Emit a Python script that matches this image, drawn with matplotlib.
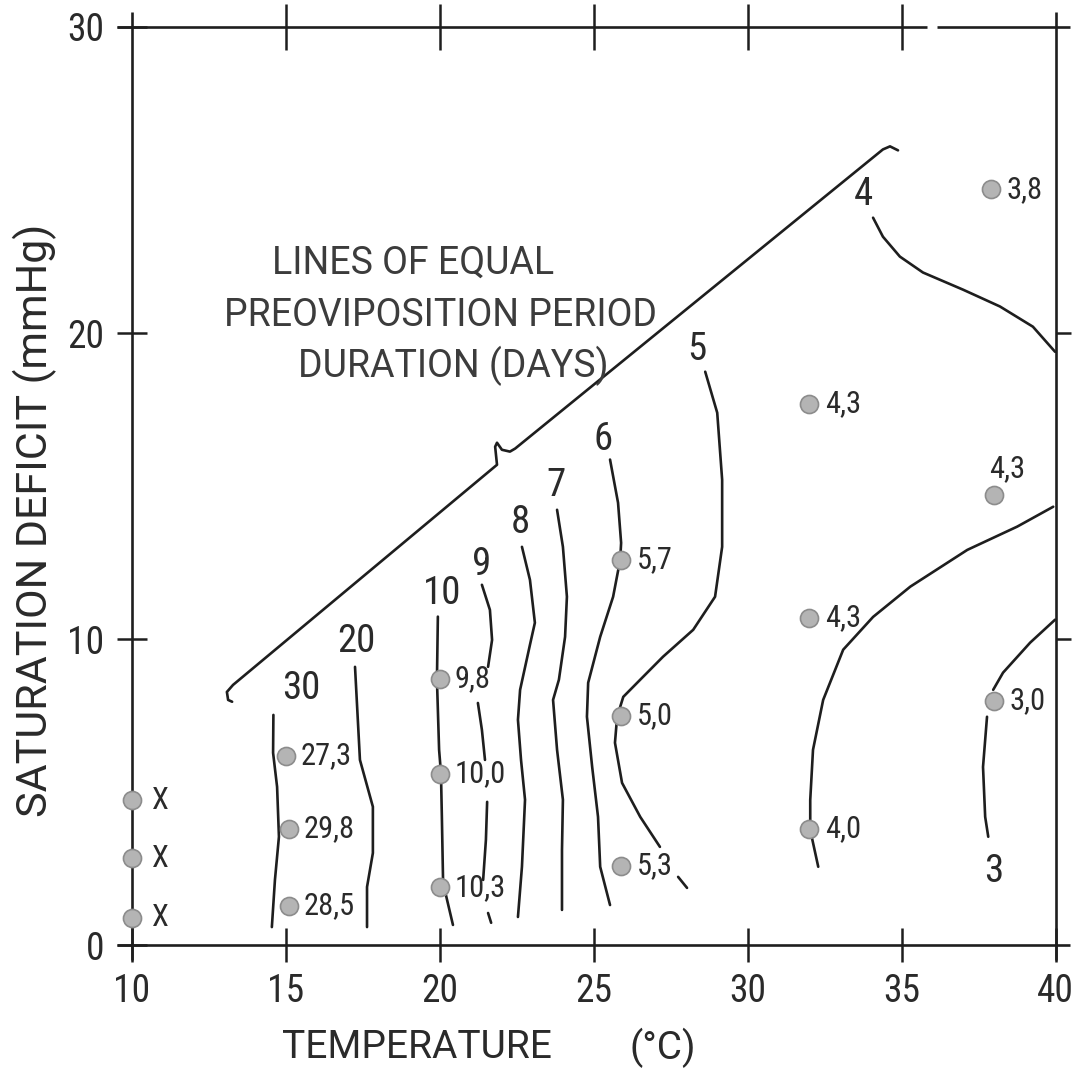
import matplotlib.pyplot as plt

plt.rcParams['font.family'] = ['Roboto Condensed', 'Liberation Sans Narrow',
                               'DejaVu Sans']
plt.rcParams['font.stretch'] = 'condensed'

INK = '#1e1e1e'
TXT = '#2a2a2a'
WIDE = dict(family=['Roboto', 'DejaVu Sans'], fontstretch='normal')

# observed preoviposition period (days) at temperature / saturation deficit
obs_temp = [15.0, 15.1, 15.1, 20.0, 20.0, 20.0, 25.9, 25.9, 25.9,
            32.0, 32.0, 32.0, 37.9, 38.0, 38.0]
obs_sd = [6.2, 3.8, 1.3, 8.7, 5.6, 1.9, 12.6, 7.5, 2.6,
          17.7, 10.7, 3.8, 24.7, 14.7, 8.0]
obs_days = ['27,3', '29,8', '28,5', '9,8', '10,0', '10,3', '5,7', '5,0', '5,3',
            '4,3', '4,3', '4,0', '3,8', '4,3', '3,0']

# no oviposition at 10 °C
nolay_temp = [10, 10, 10]
nolay_sd = [0.9, 2.85, 4.75]

# upper limit of the tested conditions
boundary = [(13.26, 7.96), (13.13, 8.02), (13.09, 8.28), (13.29, 8.51),
            (21.86, 15.70), (21.80, 16.29), (21.86, 16.42), (22.02, 16.19),
            (22.28, 16.13), (22.45, 16.23), (34.39, 26.0), (34.62, 26.1),
            (34.88, 25.97)]

# isolines, each a list of drawn segments
iso30 = [[(14.60, 7.53), (14.59, 6.29), (14.72, 5.18), (14.78, 3.55),
          (14.65, 2.14), (14.55, 0.60)]]
iso20 = [[(17.25, 9.10), (17.41, 6.06), (17.83, 4.53), (17.83, 3.02),
          (17.64, 1.91), (17.64, 0.60)]]
iso10 = [[(19.94, 10.74), (19.91, 8.68), (19.98, 6.39), (20.04, 5.64),
          (20.07, 4.20), (20.11, 2.04), (20.43, 0.67)]]
iso9 = [[(21.37, 11.78), (21.63, 10.96), (21.70, 9.98), (21.57, 9.10)],
        [(21.24, 7.92), (21.37, 7.04), (21.47, 6.06)],
        [(21.54, 4.69), (21.50, 3.45), (21.41, 2.14)],
        [(21.57, 1.06), (21.67, 0.74)]]
iso8 = [[(22.67, 13.02), (22.93, 11.94), (23.09, 10.54), (22.93, 9.82),
         (22.61, 8.35), (22.54, 7.37), (22.64, 6.06), (22.77, 4.76),
         (22.67, 2.57), (22.54, 0.93)]]
iso7 = [[(23.81, 14.23), (24.0, 13.02), (24.13, 11.39), (24.07, 10.08),
         (23.87, 8.68), (23.68, 8.02), (23.81, 6.39), (24.0, 4.76),
         (23.97, 3.12), (23.97, 1.16)]]
iso6 = [[(25.53, 15.87), (25.79, 14.46), (25.89, 13.15), (25.86, 12.60),
         (25.63, 11.39), (25.21, 10.08), (24.82, 8.58), (24.78, 7.47),
         (24.95, 5.83), (25.14, 4.20), (25.21, 2.57), (25.53, 1.32)]]
iso5 = [[(28.62, 18.74), (29.01, 17.40), (29.17, 15.21), (29.17, 13.02),
         (28.94, 11.39), (28.23, 10.31), (27.25, 9.43), (26.51, 8.68),
         (25.96, 8.12), (25.76, 7.47), (25.69, 6.62), (25.92, 5.31),
         (26.51, 4.20), (27.15, 3.22)],
        [(27.74, 2.24), (28.03, 1.88)]]
iso4 = [[(34.07, 23.77), (34.39, 23.15), (34.94, 22.5), (35.69, 21.98),
         (36.99, 21.42), (38.19, 20.87), (39.26, 20.21), (39.98, 19.39)],
        [(39.92, 14.33), (38.75, 13.68), (37.13, 12.92), (35.28, 11.72),
         (34.07, 10.73), (33.10, 9.66), (32.45, 8.02), (32.12, 6.39),
         (32.03, 4.75), (32.03, 3.77), (32.29, 2.57)]]
iso3 = [[(39.98, 10.64), (39.17, 9.89), (38.29, 8.91), (37.97, 8.35)],
        [(37.77, 7.47), (37.64, 5.83), (37.71, 4.20), (37.81, 3.55)]]

isolines = [iso30, iso20, iso10, iso9, iso8, iso7, iso6, iso5, iso4, iso3]
iso_names = ['30', '20', '10', '9', '8', '7', '6', '5', '4', '3']
iso_label_x = [15.52, 17.28, 20.07, 21.35, 22.61, 23.78, 25.3, 28.35, 33.75, 38.0]
iso_label_y = [8.38, 9.92, 11.50, 12.43, 13.82, 15.02, 16.52, 19.46, 24.53, 2.4]

xticks = [10, 15, 20, 25, 30, 35, 40]
yticks = [0, 10, 20, 30]

fig = plt.figure(figsize=(10.85, 10.70), dpi=100)
ax = fig.add_axes([0.1214, 0.1164, 0.8516, 0.8584])
ax.set_xlim(10, 40)
ax.set_ylim(0, 30)

for s in ax.spines.values():
    s.set_visible(False)

# frame drawn by hand, with overhanging corners and a gap in the top edge
e = 0.016
frame_kw = dict(transform=ax.transAxes, color=INK, lw=1.9, clip_on=False,
                solid_capstyle='butt')
ax.plot([-e, 1 + e], [0, 0], **frame_kw)
ax.plot([0, 0], [-e, 1 + e], **frame_kw)
ax.plot([1, 1], [-e, 1 + e], **frame_kw)
ax.plot([-e, 0.861], [1, 1], **frame_kw)
ax.plot([0.872, 1 + e], [1, 1], **frame_kw)

ax.set_xticks(xticks)
ax.set_yticks(yticks)
ax.tick_params(axis='x', direction='inout', length=24, width=1.8, color=INK,
               labelsize=27, labelcolor=TXT, pad=8)
ax.tick_params(axis='y', direction='inout', length=22, width=1.8, color=INK,
               labelsize=27, labelcolor=TXT, pad=9)

top = ax.secondary_xaxis('top')
top.set_xticks(xticks[1:-1])
top.tick_params(direction='inout', length=33, width=1.8, color=INK, labeltop=False)
top.spines['top'].set_visible(False)

right = ax.secondary_yaxis('right')
right.set_yticks([10, 20])
right.tick_params(direction='out', length=11, width=1.8, color=INK, labelright=False)
right.spines['right'].set_visible(False)

# boundary and isolines
bx, by = zip(*boundary)
ax.plot(bx, by, color=INK, lw=1.9, solid_joinstyle='round', solid_capstyle='round')
for segs in isolines:
    for seg in segs:
        sx, sy = zip(*seg)
        ax.plot(sx, sy, color=INK, lw=1.9, solid_joinstyle='round',
                solid_capstyle='round')

for name, lx, ly in zip(iso_names, iso_label_x, iso_label_y):
    ax.text(lx, ly, name, fontsize=28, color=TXT, ha='center', va='center')

# observations
ax.plot(obs_temp, obs_sd, 'o', ms=13, mfc='#b4b4b4', mec='#8c8c8c', mew=1.2,
        zorder=5)
for t, sd, lab in zip(obs_temp, obs_sd, obs_days):
    if lab == '4,3' and t > 37:
        ax.annotate(lab, (t, sd), xytext=(9.5, 19.5), textcoords='offset points',
                    fontsize=22, color=TXT, ha='center', va='center')
    else:
        ax.annotate(lab, (t, sd), xytext=(11, 0), textcoords='offset points',
                    fontsize=22, color=TXT, ha='left', va='center')

ax.plot(nolay_temp, nolay_sd, 'o', ms=13, mfc='#b4b4b4', mec='#8c8c8c',
        mew=1.2, zorder=5, clip_on=False)
for t, sd in zip(nolay_temp, nolay_sd):
    ax.annotate('X', (t, sd), xytext=(14.5, 0), textcoords='offset points',
                fontsize=22, color=TXT, ha='left', va='center')

# legend text
note_kw = dict(fontsize=27, color='#3c3c3c', ha='center', va='center',
               transform=fig.transFigure, **WIDE)
fig.text(413 / 1085, 1 - 263 / 1070, 'LINES OF EQUAL', **note_kw)
fig.text(440 / 1085, 1 - 315 / 1070, 'PREOVIPOSITION PERIOD', **note_kw)
fig.text(453 / 1085, 1 - 366 / 1070, 'DURATION (DAYS)', **note_kw)

# axis titles
fig.text(282 / 1085, 1 - 1048 / 1070, 'TEMPERATURE', fontsize=28, color=TXT,
         ha='left', va='center', **WIDE)
fig.text(630 / 1085, 1 - 1048 / 1070, '(°C)', fontsize=28, color=TXT,
         ha='left', va='center', **WIDE)
fig.text(35 / 1085, 1 - 520 / 1070, 'SATURATION DEFICIT (mmHg)', fontsize=31,
         color=TXT, ha='center', va='center', rotation=90, **WIDE)

fig.savefig('out.png', dpi=100, facecolor='white')
